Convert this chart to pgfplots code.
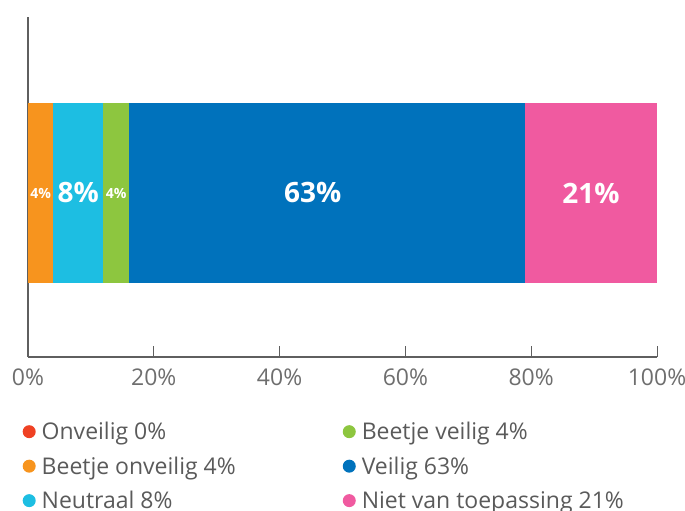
\documentclass[border=0pt]{standalone}
\usepackage{fontspec}
\setmainfont{Open Sans}
\usepackage{pgfplots}
\pgfplotsset{compat=1.18}
\definecolor{cRed}{RGB}{239,65,35}
\definecolor{cOrange}{RGB}{247,148,30}
\definecolor{cCyan}{RGB}{29,190,226}
\definecolor{cGreen}{RGB}{141,198,63}
\definecolor{cBlue}{RGB}{0,114,188}
\definecolor{cPink}{RGB}{240,90,160}
\definecolor{axisgray}{RGB}{95,95,95}
\definecolor{tickgray}{RGB}{110,110,110}
\definecolor{leggray}{RGB}{90,90,90}

\begin{document}
\begin{tikzpicture}
\begin{axis}[
    name=ax,
    scale only axis,
    width=629pt, height=340pt,
    xbar stacked,
    bar width=180pt,
    xmin=0, xmax=100,
    ymin=0, ymax=340,
    axis x line*=bottom,
    axis y line*=left,
    axis line style={draw=axisgray, line width=1.3pt},
    ytick=\empty,
    xtick={0,20,40,60,80,100},
    xticklabel={\pgfmathprintnumber{\tick}\%},
    /pgf/number format/assume math mode=true,
    tick align=inside,
    major tick length=11pt,
    tick style={draw=axisgray, line width=0.9pt},
    x tick label style={font=\fontsize{23}{26}\selectfont, text=tickgray, yshift=-8pt},
    point meta=explicit,
    nodes near coords={\pgfmathprintnumber{\pgfplotspointmeta}\%},
    every node near coord/.append style={text=white, anchor=center,
        font=\bfseries\fontsize{28}{30}\selectfont},
    legend image code/.code={\fill[#1] (6pt,0pt) circle (6.5pt);},
    legend columns=3,
    transpose legend,
    legend cell align=left,
    legend style={at={(0,0)}, anchor=north west, xshift=-5.5pt, yshift=-63pt,
        draw=none, fill=none, inner sep=0pt,
        font=\fontsize{23}{26}\selectfont, text=leggray,
        row sep=11.5pt,
        /tikz/every odd column/.append style={column sep=4pt},
        /tikz/every even column/.append style={column sep=105pt}},
]

\addplot[fill=cRed, draw=none, nodes near coords={}] coordinates {(0,164) [0]};
\addlegendentry{Onveilig 0\%}
\addplot[fill=cOrange, draw=none,
    every node near coord/.append style={font=\bfseries\fontsize{14}{16}\selectfont}]
    coordinates {(4,164) [4]};
\addlegendentry{Beetje onveilig 4\%}
\addplot[fill=cCyan, draw=none]
    coordinates {(8,164) [8]};
\addlegendentry{Neutraal 8\%}
\addplot[fill=cGreen, draw=none,
    every node near coord/.append style={font=\bfseries\fontsize{14}{16}\selectfont}]
    coordinates {(4,164) [4]};
\addlegendentry{Beetje veilig 4\%}
\addplot[fill=cBlue, draw=none,
    every node near coord/.append style={xshift=-14pt}]
    coordinates {(63,164) [63]};
\addlegendentry{Veilig 63\%}
\addplot[fill=cPink, draw=none]
    coordinates {(21,164) [21]};
\addlegendentry{Niet van toepassing 21\%}

\end{axis}
\pgfresetboundingbox
\path (ax.south west) ++(-28pt,-154pt) coordinate (bbA);
\path (ax.north east) ++(28pt,17pt) coordinate (bbB);
\useasboundingbox (bbA) rectangle (bbB);
\end{tikzpicture}
\end{document}
